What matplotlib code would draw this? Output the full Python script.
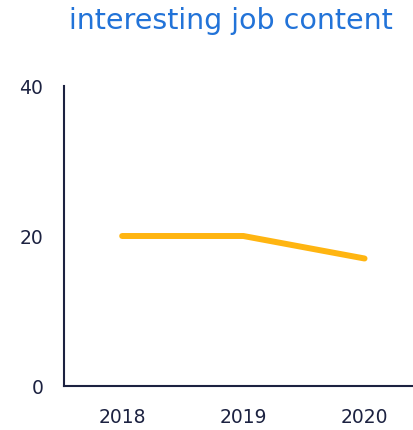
import matplotlib
matplotlib.use('Agg')
import matplotlib.pyplot as plt

YEARS = ['2018', '2019', '2020']
VALUES = [20, 20, 17]
Y_TICKS = [0, 20, 40]

TITLE = 'interesting job content'
TITLE_COLOR = '#2273d8'
TEXT_COLOR = '#1c2241'
LINE_COLOR = '#ffb511'


def main():
    plt.rcParams['font.family'] = ['DejaVu Sans']

    fig = plt.figure(figsize=(4.13, 4.31), dpi=100)
    # axes box in pixel terms: left 64, right 413, top 87, bottom 387
    ax = fig.add_axes([64 / 413, (431 - 387) / 431, (413 - 64) / 413, 300 / 431])

    x = list(range(len(YEARS)))
    ax.plot(x, VALUES, '-', color=LINE_COLOR, linewidth=4.3, solid_capstyle='round')

    ax.set_xlim(-0.48, 2.40)
    ax.set_ylim(0, 40)
    ax.set_xticks(x)
    ax.set_xticklabels(YEARS)
    ax.set_yticks(Y_TICKS)

    for side in ['top', 'right']:
        ax.spines[side].set_visible(False)
    for side in ['left', 'bottom']:
        ax.spines[side].set_color(TEXT_COLOR)
        ax.spines[side].set_linewidth(1.5)

    ax.tick_params(length=0, labelsize=13.5, colors=TEXT_COLOR)
    ax.tick_params(axis='x', pad=15)
    ax.tick_params(axis='y', pad=15)

    fig.text(231 / 413, 1 - 21 / 431, TITLE, color=TITLE_COLOR, fontsize=20.5,
             ha='center', va='center')

    fig.savefig('out.png', dpi=100)


if __name__ == '__main__':
    main()
